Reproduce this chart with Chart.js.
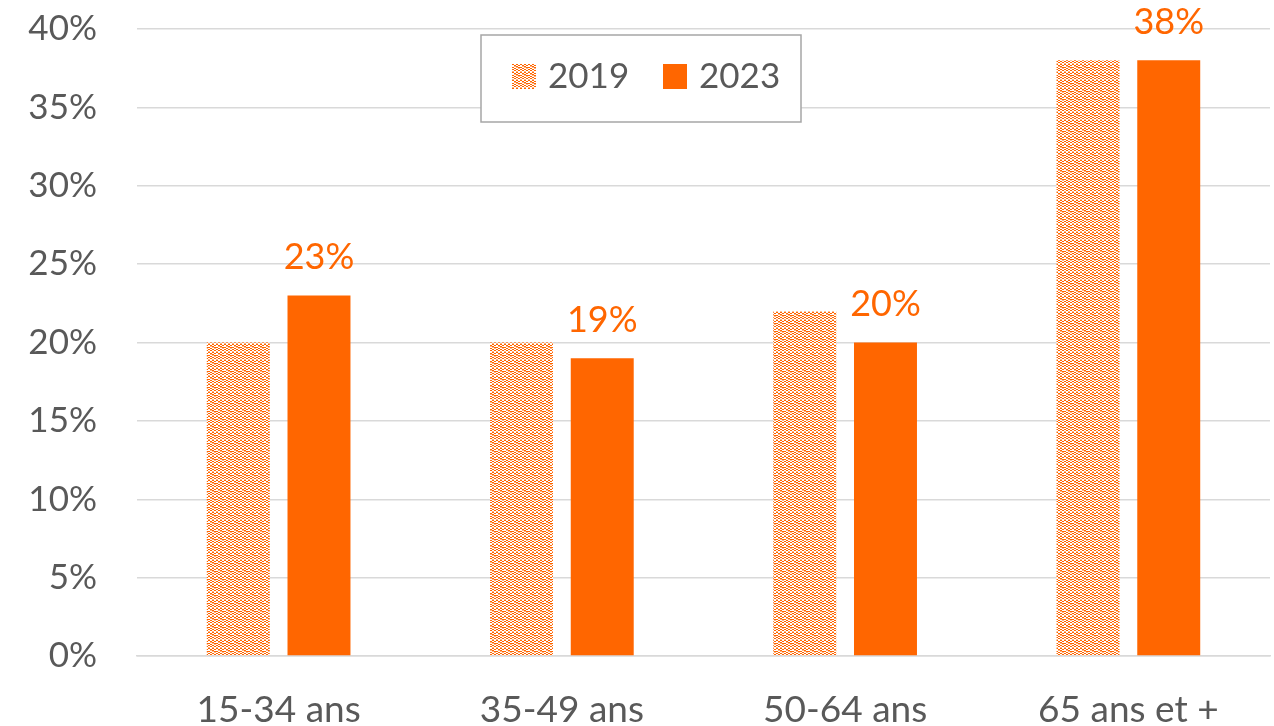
<!DOCTYPE html>
<html>
<head>
<meta charset="utf-8">
<script src="https://cdn.jsdelivr.net/npm/chart.js@4"></script>
<style>
  html, body { margin: 0; padding: 0; background: #fff; }
  #wrap { width: 1274px; height: 726px; }
</style>
</head>
<body>
<div id="wrap"><canvas id="chart" width="1274" height="726"></canvas></div>
<script>
// données
const categories = ["15-34 ans", "35-49 ans", "50-64 ans", "65 ans et +"];
const annees = ["2019", "2023"];
const valeurs2019 = [20, 20, 22, 38];
const valeurs2023 = [23, 19, 20, 38];
const ticksY = [0, 5, 10, 15, 20, 25, 30, 35, 40];

const orange = "#FF6600";
const gris = "#595959";
const police = "Lato, 'Open Sans', sans-serif";

// motif pointillé pour 2019
function motif() {
    const c = document.createElement("canvas");
    c.width = 8; c.height = 8;
    const g = c.getContext("2d");
    g.fillStyle = "#fff";
    g.fillRect(0, 0, 8, 8);
    g.fillStyle = orange;
    [[0,0],[0,3],[0,5],[2,1],[2,4],[2,6],[4,0],[4,2],[4,5],[6,1],[6,3],[6,6]].forEach(p => g.fillRect(p[0], p[1], 2, 1));
    g.fillStyle = "#ffb380";
    [[0,7],[2,2],[4,7],[6,4],[4,3]].forEach(p => g.fillRect(p[0], p[1], 2, 1));
    return g.createPattern(c, "repeat");
}
const motif2019 = motif();

// étiquettes au-dessus des barres 2023 + légende encadrée
const decor = {
    id: "decor",
    afterDatasetsDraw(chart) {
        const ctx = chart.ctx;
        ctx.save();
        ctx.font = "36px " + police;
        ctx.fillStyle = orange;
        ctx.textAlign = "center";
        ctx.textBaseline = "bottom";
        chart.getDatasetMeta(1).data.forEach((b, i) => {
            ctx.fillText(valeurs2023[i] + "%", b.x, b.y - 20);
        });
        // légende
        ctx.strokeStyle = "#a6a6a6";
        ctx.lineWidth = 1.5;
        ctx.fillStyle = "#fff";
        ctx.fillRect(481, 35, 320, 87);
        ctx.strokeRect(481, 35, 320, 87);
        ctx.fillStyle = motif2019;
        ctx.fillRect(512, 64, 24, 25);
        ctx.fillStyle = orange;
        ctx.fillRect(663, 64, 24, 25);
        ctx.fillStyle = gris;
        ctx.font = "35px " + police;
        ctx.textAlign = "left";
        ctx.textBaseline = "middle";
        ctx.fillText(annees[0], 548, 77);
        ctx.fillText(annees[1], 699, 77);
        ctx.restore();
    }
};

new Chart(document.getElementById("chart").getContext("2d"), {
    type: "bar",
    data: {
        labels: categories,
        datasets: [
            { label: annees[0], data: valeurs2019, backgroundColor: motif2019, categoryPercentage: 0.57, barPercentage: 0.78 },
            { label: annees[1], data: valeurs2023, backgroundColor: orange, categoryPercentage: 0.57, barPercentage: 0.78 }
        ]
    },
    options: {
        responsive: false,
        animation: false,
        layout: { padding: { top: 29, right: 4, left: 0, bottom: 0 } },
        plugins: {
            legend: { display: false },
            tooltip: { enabled: false }
        },
        scales: {
            x: {
                grid: { display: false },
                border: { color: "#d9d9d9", width: 1.5 },
                ticks: { color: gris, font: { family: police, size: 37 }, padding: 24 },
                afterFit(s) { s.height = 70; s.paddingLeft = 0; s.paddingRight = 0; }
            },
            y: {
                min: 0,
                max: 40,
                afterBuildTicks(s) { s.ticks = ticksY.map(v => ({ value: v })); },
                grid: { color: "#d9d9d9", lineWidth: 1.5, drawTicks: false },
                border: { display: false },
                ticks: { color: gris, font: { family: police, size: 35 }, padding: 40, callback: v => v + "%" },
                afterFit(s) { s.width = 137; s.paddingTop = 0; s.paddingBottom = 0; }
            }
        }
    },
    plugins: [decor]
});
</script>
</body>
</html>
